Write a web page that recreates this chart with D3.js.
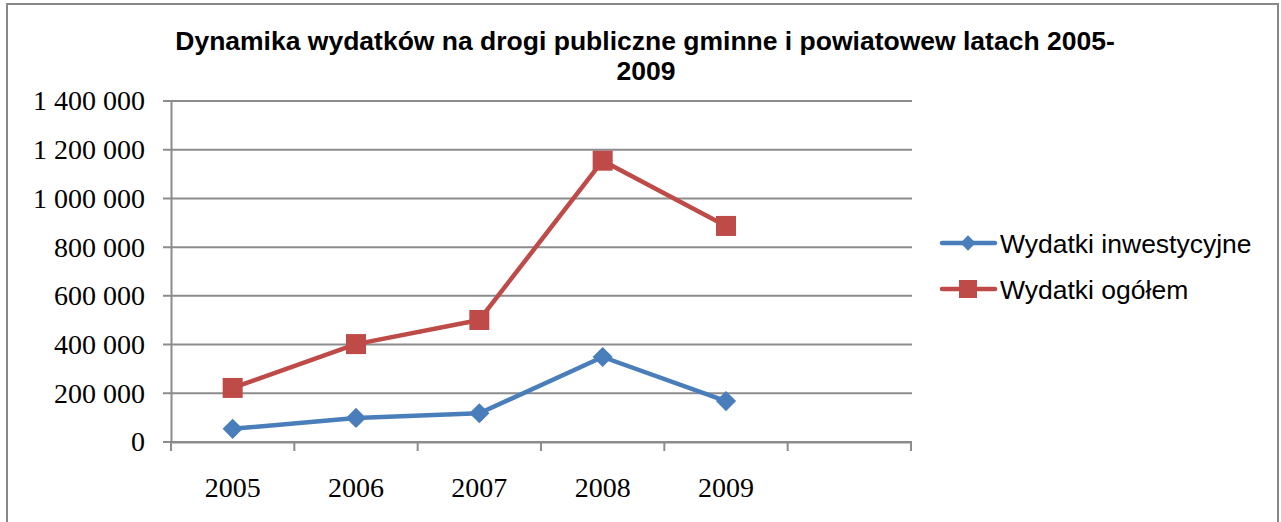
<!DOCTYPE html>
<html lang="pl">
<head>
<meta charset="UTF-8">
<title>Dynamika wydatków</title>
<script src="https://d3js.org/d3.v7.min.js"></script>
<style>
  body { margin: 0; background: #fff; }
  svg { display: block; }
</style>
</head>
<body>
<div id="chart"></div>
<script>
// dane
var years = ["2005", "2006", "2007", "2008", "2009", ""];
var inwestycyjne = [54000, 99000, 118000, 349000, 168000];
var ogolem = [222000, 402000, 501000, 1155000, 887000];
var yTicks = [0, 200000, 400000, 600000, 800000, 1000000, 1200000, 1400000];
var seriesNames = ["Wydatki inwestycyjne", "Wydatki ogółem"];

var W = 1281, H = 522;
var margin = {top: 101, left: 171, right: 370, bottom: 80};
var width = W - margin.left - margin.right,
    height = H - margin.top - margin.bottom;

var svg = d3.select("#chart").append("svg")
    .attr("width", W).attr("height", H);

// ramka wykresu
svg.append("rect")
    .attr("x", 7).attr("y", 4)
    .attr("width", 1271).attr("height", 530)
    .attr("fill", "none").attr("stroke", "#888").attr("stroke-width", 2);

// tytuł
var titleFont = "bold 26.5px 'Liberation Sans', Arial, sans-serif";
svg.append("text")
    .attr("x", 645).attr("y", 50)
    .attr("text-anchor", "middle")
    .style("font", titleFont)
    .text("Dynamika wydatków na drogi publiczne gminne i powiatowew latach 2005-");
svg.append("text")
    .attr("x", 646).attr("y", 80)
    .attr("text-anchor", "middle")
    .style("font", titleFont)
    .text("2009");

var g = svg.append("g")
    .attr("transform", "translate(" + margin.left + "," + margin.top + ")");

var x = d3.scaleBand().domain(years).range([0, width]);
var y = d3.scaleLinear().domain([0, 1400000]).range([height, 0]);

var fmt = function(d) { return d3.format(",")(d).replace(/,/g, " "); };
var axisFont = "28px 'Liberation Serif', serif";

// siatka pozioma
g.selectAll(".grid").data(yTicks).enter().append("line")
    .attr("x1", -8).attr("x2", width + 1)
    .attr("y1", function(d) { return y(d); })
    .attr("y2", function(d) { return y(d); })
    .attr("stroke", "#8c8c8c").attr("stroke-width", 2);

// oś Y
var yAxis = g.append("g").call(d3.axisLeft(y).tickValues(yTicks).tickSize(0).tickPadding(26).tickFormat(fmt));
yAxis.select(".domain").attr("stroke", "#8c8c8c").attr("stroke-width", 2);
yAxis.selectAll("text")
    .style("font", axisFont)
    .attr("fill", "#000");

// oś X
var xAxis = g.append("g").attr("transform", "translate(0," + height + ")")
    .call(d3.axisBottom(x).tickSize(0).tickFormat(""));
xAxis.select(".domain").attr("stroke", "#8c8c8c").attr("stroke-width", 2);
var bounds = years.map(function(d) { return x(d); }).concat([width]);
g.selectAll(".xtick").data(bounds).enter().append("line")
    .attr("x1", function(d) { return d; }).attr("x2", function(d) { return d; })
    .attr("y1", height).attr("y2", height + 9)
    .attr("stroke", "#8c8c8c").attr("stroke-width", 2);
g.selectAll(".xlab").data(years).enter().append("text")
    .attr("x", function(d) { return x(d) + x.bandwidth() / 2; })
    .attr("y", height + 55)
    .attr("text-anchor", "middle")
    .style("font", axisFont)
    .text(function(d) { return d; });

var cx = function(d, i) { return x(years[i]) + x.bandwidth() / 2; };
var line = d3.line().x(cx).y(function(d) { return y(d); });

var blue = "#4a7ebb", red = "#be4b48";

g.append("path").datum(ogolem).attr("d", line)
    .attr("fill", "none").attr("stroke", red).attr("stroke-width", 4.5).attr("stroke-linejoin", "round");
g.selectAll(".sq").data(ogolem).enter().append("rect")
    .attr("x", function(d, i) { return cx(d, i) - 10; })
    .attr("y", function(d) { return y(d) - 10; })
    .attr("width", 20).attr("height", 20)
    .attr("fill", red);

g.append("path").datum(inwestycyjne).attr("d", line)
    .attr("fill", "none").attr("stroke", blue).attr("stroke-width", 4.5).attr("stroke-linejoin", "round");
var diamond = d3.symbol().type(d3.symbolDiamond2).size(260);
g.selectAll(".dm").data(inwestycyjne).enter().append("path")
    .attr("d", diamond)
    .attr("transform", function(d, i) { return "translate(" + cx(d, i) + "," + y(d) + ")"; })
    .attr("fill", blue);

// legenda
var legend = svg.append("g").attr("transform", "translate(940,243)");
var colors = [blue, red];
seriesNames.forEach(function(name, i) {
    var row = legend.append("g").attr("transform", "translate(0," + (i * 46) + ")");
    row.append("line").attr("x1", 2).attr("x2", 55).attr("y1", 0).attr("y2", 0)
        .attr("stroke", colors[i]).attr("stroke-width", 4.5).attr("stroke-linecap", "round");
    if (i === 0) {
        row.append("path").attr("d", d3.symbol().type(d3.symbolDiamond2).size(150))
            .attr("transform", "translate(28,0)").attr("fill", colors[i]);
    } else {
        row.append("rect").attr("x", 19).attr("y", -9).attr("width", 18).attr("height", 18).attr("fill", colors[i]);
    }
    row.append("text").attr("x", 60).attr("y", 10)
        .style("font", "26.5px 'Liberation Sans', Arial, sans-serif")
        .text(name);
});
</script>
</body>
</html>
